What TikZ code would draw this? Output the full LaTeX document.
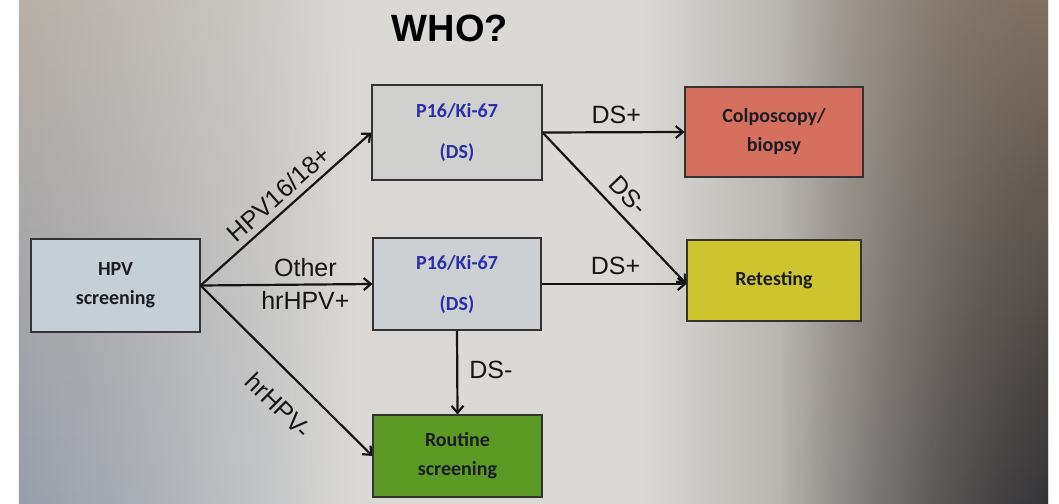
\documentclass[tikz,border=0pt]{standalone}
\usepackage{fontspec}
\setmainfont{Liberation Sans}
\newfontfamily\boxfont{Carlito}
\usetikzlibrary{arrows.meta,fadings,calc}
\definecolor{bgL}{HTML}{C6C6C6}
\definecolor{bgM}{HTML}{DAD9D6}
\definecolor{bgR}{HTML}{7A716A}
\definecolor{hpvfill}{HTML}{C6CED6}
\definecolor{pfill}{HTML}{D0D0CF}
\definecolor{pfillb}{HTML}{CDD0D3}
\definecolor{colfill}{HTML}{D5705F}
\definecolor{retfill}{HTML}{CEC52E}
\definecolor{routfill}{HTML}{5A9A25}
\definecolor{boxline}{HTML}{333335}
\definecolor{boxtext}{HTML}{1C1C22}
\definecolor{dsblue}{HTML}{2A2EAA}
\definecolor{labtext}{HTML}{151515}
\tikzfading[name=fadeleft, left color=transparent!0, right color=transparent!100]
\tikzfading[name=faderight, left color=transparent!100, right color=transparent!0]
\tikzset{
  box/.style={draw=boxline, line width=1.1pt, inner sep=0pt, align=center,
    font=\boxfont\bfseries\fontsize{20}{29}\selectfont, text=boxtext},
  lab/.style={font=\fontsize{25}{30}\selectfont, inner sep=0pt, text=labtext},
  arr/.style={line width=2.2pt, draw=labtext, -{Straight Barb[length=7pt,width=12pt]}},
}
\begin{document}
\begin{tikzpicture}[x=1pt,y=-1pt]
\useasboundingbox (0,0) rectangle (1059,503);
% background (photographed slide)
\fill[white] (-2,-2) rectangle (1061,505);
\fill[bgM] (320,-2) rectangle (650,505);
\shade[left color=bgL, right color=bgM] (19,-2) rectangle (331,505);
\shade[left color=bgM, right color=bgR] (639,-2) rectangle (1048,505);
\shade[top color={rgb,255:red,184;green,176;blue,168}, middle color={rgb,255:red,204;green,205;blue,204}, bottom color={rgb,255:red,152;green,158;blue,170}, path fading=fadeleft] (19,-2) rectangle (360,505);
\shade[top color={rgb,255:red,128;green,112;blue,98}, middle color={rgb,255:red,104;green,98;blue,96}, bottom color={rgb,255:red,52;green,52;blue,55}, path fading=faderight] (780,-2) rectangle (1048,505);

% title
\node[font=\bfseries\fontsize{38}{40}\selectfont, inner sep=0pt, text=black] (title) at (450,28) {WHO?};

% boxes
\node[box, fill=hpvfill, minimum width=169pt, minimum height=93pt] (hpv) at (115.5,285.5) {HPV\\screening};
\node[box, fill=pfill, text=dsblue, minimum width=170pt, minimum height=95pt] (p1) at (457,132.5) {P16/Ki-67\\[12pt](DS)};
\node[box, fill=pfillb, text=dsblue, minimum width=168pt, minimum height=92pt] (p2) at (457,284) {P16/Ki-67\\[12pt](DS)};
\node[box, fill=colfill, minimum width=178pt, minimum height=90pt] (col) at (774,132) {Colposcopy/\\biopsy};
\node[box, fill=retfill, minimum width=174pt, minimum height=81pt] (ret) at (774,280.5) {Retesting};
\node[box, fill=routfill, minimum width=169pt, minimum height=82pt] (rout) at (457.5,456) {Routine\\screening};

\coordinate (rin) at (p2.east -| ret.west);

% connectors
\draw[arr] (hpv.east) -- node[lab, sloped, pos=0.52, above=6pt] {HPV16/18+} (p1.west);
\draw[arr] (hpv.east) -- node[lab, pos=0.61, above=7pt] {Other} node[lab, pos=0.61, below=6pt] {hrHPV+} (p2.west);
\draw[arr] (hpv.east) -- node[lab, sloped, pos=0.578, below=20pt] {hrHPV-} (rout.west);
\draw[arr] (p1.east) -- node[lab, pos=0.52, above=7pt] {DS+} (col.west);
\draw[arr] (p1.east) -- node[lab, sloped, pos=0.5, above=9pt] {DS-} (rin);
\draw[arr] (p2.east) -- node[lab, pos=0.51, above=8pt] {DS+} (rin);
\draw[arr] (p2.south) -- node[lab, pos=0.47, right=11pt] {DS-} (rout.north);
\end{tikzpicture}
\end{document}
